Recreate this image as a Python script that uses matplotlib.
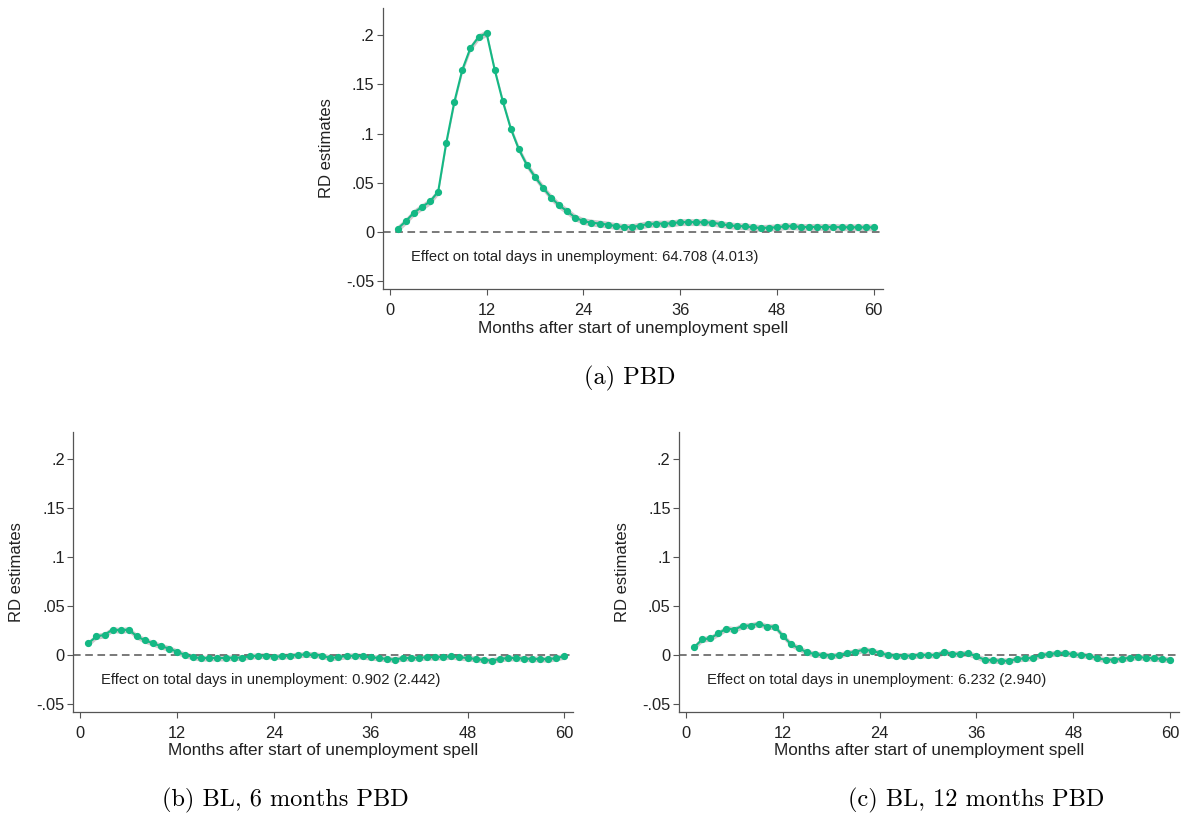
import matplotlib.pyplot as plt
import numpy as np

# months after start of unemployment spell
months = list(range(1, 61))

# RD estimates
pbd = [0.0034, 0.011, 0.0197, 0.0254, 0.031, 0.041, 0.0905, 0.132, 0.165, 0.187,
       0.198, 0.202, 0.165, 0.133, 0.105, 0.084, 0.068, 0.056, 0.045, 0.035,
       0.027, 0.021, 0.0146, 0.011, 0.0095, 0.0085, 0.0075, 0.006, 0.005, 0.005,
       0.0064, 0.008, 0.0085, 0.0085, 0.0088, 0.010, 0.010, 0.010, 0.0098, 0.0095,
       0.008, 0.0068, 0.006, 0.0058, 0.0047, 0.004, 0.0044, 0.0047, 0.0058, 0.0058,
       0.005, 0.005, 0.0052, 0.005, 0.005, 0.0048, 0.0048, 0.0047, 0.0047, 0.0047]

bl6 = [0.012, 0.019, 0.0205, 0.026, 0.025, 0.026, 0.019, 0.015, 0.012, 0.009,
       0.0066, 0.0033, 0.0, -0.002, -0.0033, -0.003, -0.003, -0.003, -0.0026, -0.0026,
       -0.0013, -0.0007, -0.0007, -0.0017, -0.0013, -0.0007, 0.0, 0.0007, 0.0003, -0.0007,
       -0.003, -0.002, -0.001, -0.0007, -0.0013, -0.0023, -0.003, -0.004, -0.0046, -0.003,
       -0.003, -0.0026, -0.0023, -0.002, -0.002, -0.0013, -0.0023, -0.003, -0.004, -0.005,
       -0.0056, -0.004, -0.003, -0.003, -0.0036, -0.004, -0.004, -0.0043, -0.003, -0.0013]

bl12 = [0.0078, 0.016, 0.017, 0.022, 0.027, 0.026, 0.0297, 0.030, 0.032, 0.029,
        0.029, 0.0196, 0.011, 0.0068, 0.0027, 0.001, 0.0, -0.0007, 0.0, 0.002,
        0.0034, 0.0054, 0.0044, 0.002, 0.0, -0.0007, -0.0007, -0.0007, 0.0, 0.0,
        0.0, 0.0034, 0.001, 0.0014, 0.0017, -0.0014, -0.0047, -0.0054, -0.0057, -0.006,
        -0.004, -0.0034, -0.0027, 0.0, 0.001, 0.002, 0.002, 0.0007, 0.0, -0.0007,
        -0.0034, -0.0047, -0.0047, -0.004, -0.0027, -0.002, -0.0027, -0.0034, -0.004, -0.005]

ci_halfwidth = {"pbd": 0.0035, "bl6": 0.003, "bl12": 0.003}

effect_text = {
    "pbd": "Effect on total days in unemployment: 64.708 (4.013)",
    "bl6": "Effect on total days in unemployment: 0.902 (2.442)",
    "bl12": "Effect on total days in unemployment: 6.232 (2.940)",
}
captions = {"pbd": "(a) PBD", "bl6": "(b) BL, 6 months PBD", "bl12": "(c) BL, 12 months PBD"}

yticks = [-0.05, 0, 0.05, 0.1, 0.15, 0.2]
ytick_labels = ["-.05", "0", ".05", ".1", ".15", ".2"]
xticks = [0, 12, 24, 36, 48, 60]

GREEN = "#14b884"
AXCOL = "#555555"
SANS = "Liberation Sans"


def dibujar_panel(ax, key, valores):
    x = np.array(months)
    y = np.array(valores)
    hw = ci_halfwidth[key]
    ax.fill_between(x, y - hw, y + hw, color="#c4c0c2", alpha=0.85, lw=0, zorder=1)
    ax.axhline(0, color="#555555", lw=1.1, ls=(0, (5, 3)), zorder=2)
    ax.plot(x, y, color=GREEN, lw=1.5, marker="o", ms=4.2, mec=GREEN, mfc=GREEN, zorder=3)

    ax.set_xlim(-0.88, 61.1)
    ax.set_ylim(-0.058, 0.2275)
    ax.set_xticks(xticks)
    ax.set_xticklabels([str(t) for t in xticks], fontfamily=SANS, fontsize=11.8)
    ax.set_yticks(yticks)
    ax.set_yticklabels(ytick_labels, fontfamily=SANS, fontsize=11.8)
    ax.tick_params(axis="both", length=4, width=0.8, color=AXCOL, labelcolor="#222222")
    ax.tick_params(axis="x", pad=6)
    ax.tick_params(axis="y", pad=2)

    for s in ["top", "right"]:
        ax.spines[s].set_visible(False)
    for s in ["left", "bottom"]:
        ax.spines[s].set_color(AXCOL)
        ax.spines[s].set_linewidth(0.9)

    ax.set_ylabel("RD estimates", fontfamily=SANS, fontsize=12, color="#222222")
    ax.yaxis.set_label_coords(-0.098, 0.5)
    ax.set_xlabel("Months after start of unemployment spell", fontfamily=SANS,
                  fontsize=12.3, color="#222222")
    ax.xaxis.set_label_coords(0.5, -0.112)

    ax.text(2.6, -0.0255, effect_text[key], fontfamily=SANS, fontsize=10.6,
            color="#222222", va="center", ha="left")


fig = plt.figure(figsize=(11.91, 8.23), dpi=100)

ax_a = fig.add_axes([0.3213, 0.6488, 0.4198, 0.3414])
ax_b = fig.add_axes([0.0615, 0.1349, 0.4198, 0.3406])
ax_c = fig.add_axes([0.5701, 0.1349, 0.4198, 0.3406])

dibujar_panel(ax_a, "pbd", pbd)
dibujar_panel(ax_b, "bl6", bl6)
dibujar_panel(ax_c, "bl12", bl12)

# captions below each panel
fig.text(630 / 1191, 1 - 378 / 823, captions["pbd"], family="cmr10", fontsize=17.5,
         ha="center", va="center")
fig.text(285 / 1191, 1 - 800 / 823, captions["bl6"], family="cmr10", fontsize=17.5,
         ha="center", va="center")
fig.text(976 / 1191, 1 - 800 / 823, captions["bl12"], family="cmr10", fontsize=17.5,
         ha="center", va="center")

fig.savefig("out.png", dpi=100)
